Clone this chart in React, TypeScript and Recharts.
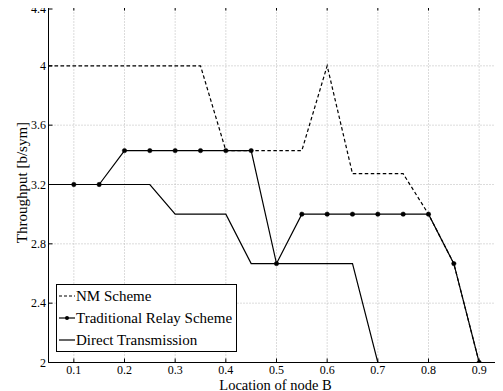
import React from 'react';
import { LineChart, Line, XAxis, YAxis, CartesianGrid, Label } from 'recharts';

const locations = [0.05, 0.1, 0.15, 0.2, 0.25, 0.3, 0.35, 0.4, 0.45, 0.5, 0.55, 0.6, 0.65, 0.7, 0.75, 0.8, 0.85, 0.9, 0.95];
const nmScheme = [4, 4, 4, 4, 4, 4, 4, 3.4286, 3.4286, 3.4286, 3.4286, 4, 3.2727, 3.2727, 3.2727, 3.0, 2.6667, 2, 2];
const traditionalRelay = [3.2, 3.2, 3.2, 3.4286, 3.4286, 3.4286, 3.4286, 3.4286, 3.4286, 2.6667, 3, 3, 3, 3, 3, 3, 2.6667, 2, 2];
const directTransmission = [3.2, 3.2, 3.2, 3.2, 3.2, 3, 3, 3, 2.6667, 2.6667, 2.6667, 2.6667, 2.6667, 2, 2, 2, 2, 2, 2];

const xTicks = [0.1, 0.2, 0.3, 0.4, 0.5, 0.6, 0.7, 0.8, 0.9];
const yTicks = [2, 2.4, 2.8, 3.2, 3.6, 4, 4.4];

const seriesNames = ['NM Scheme', 'Traditional Relay Scheme', 'Direct Transmission'];

const data = locations.map((x, i) => ({
  x,
  nm: nmScheme[i],
  trad: traditionalRelay[i],
  direct: directTransmission[i],
}));

const FONT = "'Liberation Serif', 'Times New Roman', serif";

const BottomTick = (props: any) => {
  const { x, y, payload } = props;
  return (
    <g>
      <line x1={x} x2={x} y1={y} y2={y - 4} stroke="#000" strokeWidth={1} />
      <text x={x} y={y + 11.5} textAnchor="middle" fontSize={12} fontFamily={FONT} fill="#000">
        {String(payload.value)}
      </text>
    </g>
  );
};

const TopTick = (props: any) => {
  const { x, y } = props;
  return <line x1={x} x2={x} y1={y} y2={y + 4} stroke="#000" strokeWidth={1} />;
};

const LeftTick = (props: any) => {
  const { x, y, payload } = props;
  return (
    <g>
      <line x1={x} x2={x + 4} y1={y} y2={y} stroke="#000" strokeWidth={1} />
      <text x={x - 2.5} y={y + 4} textAnchor="end" fontSize={12} fontFamily={FONT} fill="#000">
        {String(payload.value)}
      </text>
    </g>
  );
};

const RightTick = (props: any) => {
  const { x, y } = props;
  return <line x1={x} x2={x - 4} y1={y} y2={y} stroke="#000" strokeWidth={1} />;
};

const TradDot = (props: any) => {
  const { cx, cy, index } = props;
  if (index === 0) return <g key={`d-${index}`} />;
  return <circle key={`d-${index}`} cx={cx} cy={cy} r={2.2} fill="#000" stroke="#000" strokeWidth={0.5} />;
};

const legendStyles = [
  { dash: '3 2', dot: false },
  { dash: undefined, dot: true },
  { dash: undefined, dot: false },
];

export default function App() {
  return (
    <div style={{ marginLeft: -8, marginTop: -8, width: 503, height: 391, overflow: 'hidden', position: 'relative' }}>
      <LineChart
        width={520}
        height={391}
        data={data}
        margin={{ top: 5.5, right: 14.5, bottom: 27.5, left: 47.5 }}
      >
        <CartesianGrid stroke="#b8b8b8" strokeDasharray="1 2" strokeWidth={1} />
        <XAxis
          dataKey="x"
          type="number"
          domain={[0.05, 0.95]}
          ticks={xTicks}
          allowDataOverflow
          height={1}
          tickSize={0}
          tickMargin={0}
          axisLine={{ stroke: '#000', strokeWidth: 1 }}
          tickLine={false}
          tick={<BottomTick />}
        >
          <Label
            content={(p: any) => {
              const vb = p.viewBox || { x: 48.5, y: 362.5, width: 456 };
              return (
                <text x={vb.x + vb.width / 2 - 1} y={vb.y + 27} textAnchor="middle" fontSize={14.5} fontFamily={FONT} fill="#000">
                  Location of node B
                </text>
              );
            }}
          />
        </XAxis>
        <XAxis
          xAxisId="top"
          dataKey="x"
          type="number"
          orientation="top"
          domain={[0.05, 0.95]}
          ticks={xTicks}
          allowDataOverflow
          height={1}
          tickSize={0}
          tickMargin={0}
          axisLine={{ stroke: '#000', strokeWidth: 1 }}
          tickLine={false}
          tick={<TopTick />}
        />
        <YAxis
          type="number"
          domain={[2, 4.4]}
          ticks={yTicks}
          allowDataOverflow
          width={1}
          tickSize={0}
          tickMargin={0}
          axisLine={{ stroke: '#000', strokeWidth: 1 }}
          tickLine={false}
          tick={<LeftTick />}
        >
          <Label
            content={(p: any) => {
              const vb = p.viewBox || { x: 47.5, y: 6.5, width: 1, height: 356 };
              const cx = vb.x + (vb.width || 0) - 21.5;
              const cy = vb.y + vb.height / 2 - 2;
              return (
                <text x={cx} y={cy} transform={`rotate(-90 ${cx} ${cy})`} textAnchor="middle" fontSize={15} fontFamily={FONT} fill="#000">
                  Throughput [b/sym]
                </text>
              );
            }}
          />
        </YAxis>
        <YAxis
          yAxisId="right"
          type="number"
          orientation="right"
          domain={[2, 4.4]}
          ticks={yTicks}
          allowDataOverflow
          width={1}
          tickSize={0}
          tickMargin={0}
          axisLine={{ stroke: '#000', strokeWidth: 1 }}
          tickLine={false}
          tick={<RightTick />}
        />
        <Line
          dataKey="nm"
          name={seriesNames[0]}
          stroke="#000"
          strokeWidth={1.2}
          strokeDasharray="3.5 2.5"
          dot={false}
          type="linear"
          isAnimationActive={false}
        />
        <Line
          dataKey="direct"
          name={seriesNames[2]}
          stroke="#000"
          strokeWidth={1.2}
          dot={false}
          type="linear"
          isAnimationActive={false}
        />
        <Line
          dataKey="trad"
          name={seriesNames[1]}
          stroke="#000"
          strokeWidth={1.2}
          dot={TradDot}
          type="linear"
          isAnimationActive={false}
        />
      </LineChart>
      <div
        style={{
          position: 'absolute',
          left: 56,
          top: 284,
          width: 181,
          boxSizing: 'border-box',
          border: '1px solid #000',
          background: '#fff',
          fontFamily: FONT,
          fontSize: 15,
          color: '#000',
        }}
      >
        {seriesNames.map((name, i) => (
          <div key={name} style={{ display: 'flex', alignItems: 'center', height: 22, whiteSpace: 'nowrap' }}>
            <svg width={19} height={10} style={{ flex: 'none' }}>
              <line x1={2} x2={18} y1={5} y2={5} stroke="#000" strokeWidth={1.2} strokeDasharray={legendStyles[i].dash} />
              {legendStyles[i].dot && <circle cx={10} cy={5} r={2} fill="#000" />}
            </svg>
            <span style={{ lineHeight: '22px' }}>{name}</span>
          </div>
        ))}
      </div>
    </div>
  );
}
